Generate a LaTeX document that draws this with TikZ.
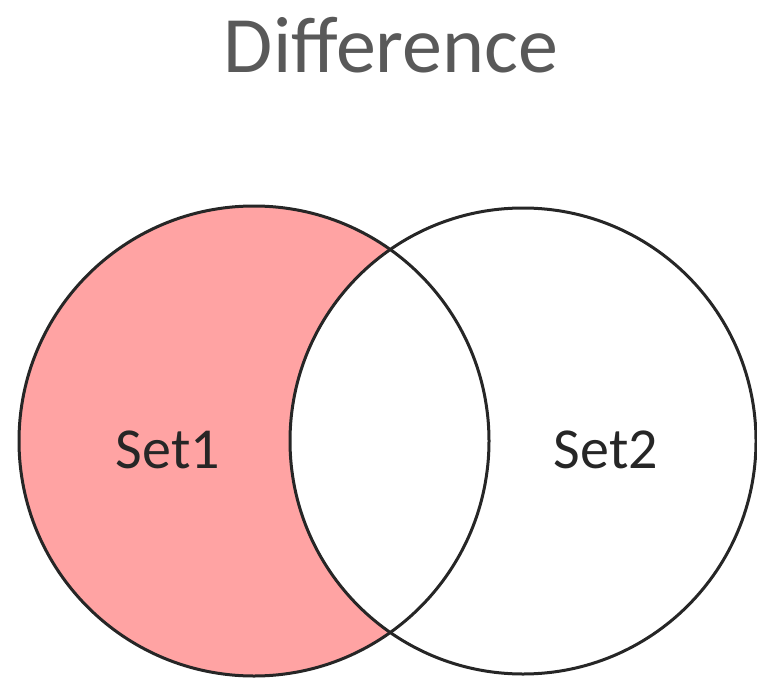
\documentclass[tikz,border=0pt]{standalone}
\usepackage{fontspec}
\setmainfont{Carlito}
\definecolor{setfill}{HTML}{FFA3A3}
\definecolor{titlegray}{HTML}{595959}
\begin{document}
\begin{tikzpicture}[x=1pt,y=-1pt,
  ring/.style={draw=black!85,line width=3pt},
  lbl/.style={font=\fontsize{58}{60}\selectfont,text=black!85,inner sep=0pt}]
\useasboundingbox (0,0) rectangle (757,679);
\coordinate (c1) at (254,441);
\coordinate (c2) at (523,441);
% Set1 minus Set2 fill
\begin{scope}[even odd rule]
  \clip (c2) circle[radius=233] (-10,-10) rectangle (800,700);
  \fill[setfill] (c1) circle[radius=235];
\end{scope}
\draw[ring] (c1) circle[radius=235];
\draw[ring] (c2) circle[radius=233];
\node[font=\fontsize{80}{84}\selectfont,text=titlegray,inner sep=0pt] (title) at (391,45) {Difference};
\node[lbl] (s1) at (168,450) {Set1};
\node[lbl] (s2) at (606,450) {Set2};
\end{tikzpicture}
\end{document}
